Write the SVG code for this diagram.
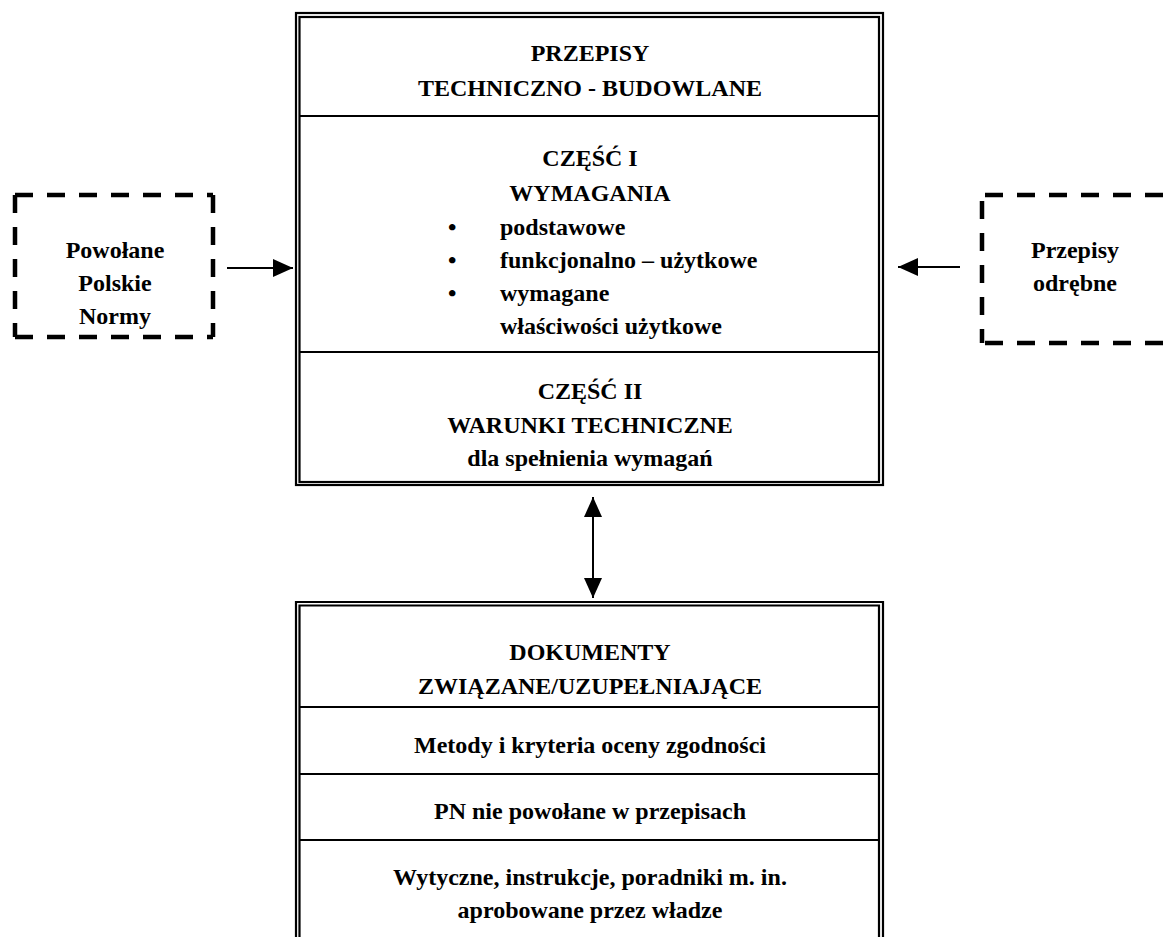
<svg xmlns="http://www.w3.org/2000/svg" width="1173" height="937" viewBox="0 0 1173 937">
  <style>
    .t { font-family: "Liberation Serif", "Times New Roman", serif; font-weight: bold; font-size: 24px; fill: #000; text-anchor: middle; }
    .tl { font-family: "Liberation Serif", "Times New Roman", serif; font-weight: bold; font-size: 24px; fill: #000; }
    .frame { fill: none; stroke: #000; stroke-width: 2.2; }
    .sep { stroke: #000; stroke-width: 2; }
    .dash { stroke: #000; stroke-width: 4.5; stroke-dasharray: 18 14; fill: none; }
    .conn { stroke: #000; stroke-width: 2; fill: none; }
  </style>
  <defs>
    <marker id="head" viewBox="0 0 20 20" refX="20" refY="10" markerWidth="20" markerHeight="20" markerUnits="userSpaceOnUse" orient="auto-start-reverse">
      <path d="M0,1 L20,10 L0,19 Z" fill="#000"/>
    </marker>
  </defs>
  <rect width="1173" height="937" fill="#fff"/>

  <!-- main regulation block -->
  <g id="przepisy">
    <rect class="frame" x="296" y="13" width="587" height="472"/>
    <rect class="frame" x="299.5" y="17" width="579.5" height="465"/>
    <line class="sep" x1="299.5" y1="116" x2="879" y2="116"/>
    <line class="sep" x1="299.5" y1="352" x2="879" y2="352"/>
    <text class="t" x="590" y="61">PRZEPISY</text>
    <text class="t" x="590" y="96">TECHNICZNO - BUDOWLANE</text>
    <text class="t" x="590" y="166">CZĘŚĆ I</text>
    <text class="t" x="590" y="201">WYMAGANIA</text>
    <text class="tl" x="448" y="235">•</text>
    <text class="tl" x="500" y="235">podstawowe</text>
    <text class="tl" x="448" y="268">•</text>
    <text class="tl" x="500" y="268">funkcjonalno – użytkowe</text>
    <text class="tl" x="448" y="301">•</text>
    <text class="tl" x="500" y="301">wymagane</text>
    <text class="tl" x="500" y="334">właściwości użytkowe</text>
    <text class="t" x="590" y="399">CZĘŚĆ II</text>
    <text class="t" x="590" y="433">WARUNKI TECHNICZNE</text>
    <text class="t" x="590" y="466">dla spełnienia wymagań</text>
  </g>

  <!-- referenced Polish standards -->
  <g id="normy">
    <line class="dash" x1="15" y1="195" x2="213" y2="195"/>
    <line class="dash" x1="15" y1="337" x2="213" y2="337"/>
    <line class="dash" x1="15" y1="195" x2="15" y2="337"/>
    <line class="dash" x1="213" y1="195" x2="213" y2="337"/>
    <text class="t" x="115" y="258">Powołane</text>
    <text class="t" x="115" y="291">Polskie</text>
    <text class="t" x="115" y="324">Normy</text>
  </g>

  <!-- separate regulations -->
  <g id="odrebne">
    <line class="dash" x1="985" y1="195" x2="1173" y2="195"/>
    <line class="dash" x1="985" y1="343" x2="1173" y2="343"/>
    <line class="dash" x1="982" y1="201" x2="982" y2="343"/>
    <text class="t" x="1075" y="258">Przepisy</text>
    <text class="t" x="1075" y="291">odrębne</text>
  </g>

  <!-- supplementary documents block -->
  <g id="dokumenty">
    <path class="frame" d="M296,940 V602 H883 V940"/>
    <path class="frame" d="M299.5,940 V605.5 H879 V940"/>
    <line class="sep" x1="299.5" y1="707" x2="879" y2="707"/>
    <line class="sep" x1="299.5" y1="774" x2="879" y2="774"/>
    <line class="sep" x1="299.5" y1="840" x2="879" y2="840"/>
    <text class="t" x="590" y="660">DOKUMENTY</text>
    <text class="t" x="590" y="694">ZWIĄZANE/UZUPEŁNIAJĄCE</text>
    <text class="t" x="590" y="753">Metody i kryteria oceny zgodności</text>
    <text class="t" x="590" y="819">PN nie powołane w przepisach</text>
    <text class="t" x="590" y="885">Wytyczne, instrukcje, poradniki m. in.</text>
    <text class="t" x="590" y="918">aprobowane przez władze</text>
  </g>

  <!-- connectors -->
  <g id="connectors">
    <line class="conn" x1="227" y1="268" x2="293" y2="268" marker-end="url(#head)"/>
    <line class="conn" x1="960" y1="267" x2="898" y2="267" marker-end="url(#head)"/>
    <line class="conn" x1="593" y1="497" x2="593" y2="598" marker-start="url(#head)" marker-end="url(#head)"/>
  </g>
</svg>
